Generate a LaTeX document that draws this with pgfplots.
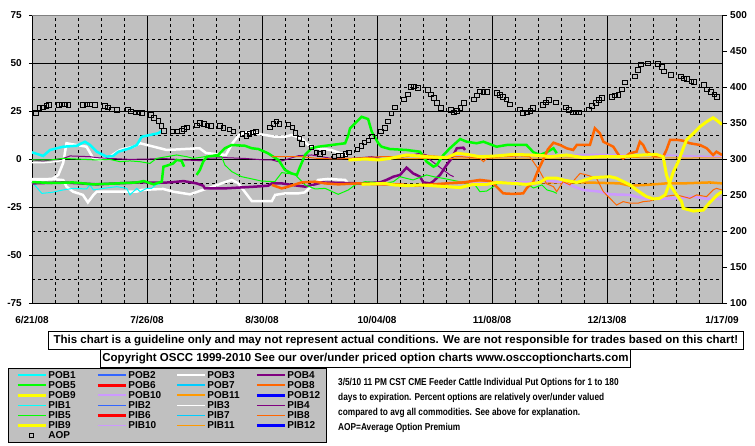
\documentclass[border=0pt]{standalone}
\usepackage{fontspec}
\setmainfont{Liberation Sans}
\usepackage{pgfplots}
\pgfplotsset{compat=1.18}
\definecolor{chartgray}{HTML}{C0C0C0}
\definecolor{cCyan}{HTML}{00FFFF}
\definecolor{cBlue2}{HTML}{3366FF}
\definecolor{cPurple}{HTML}{800080}
\definecolor{cGreen}{HTML}{00FF00}
\definecolor{cRed}{HTML}{FF0000}
\definecolor{cSky}{HTML}{00CCFF}
\definecolor{cOrRed}{HTML}{FF6600}
\definecolor{cYellow}{HTML}{FFFF00}
\definecolor{cLav}{HTML}{CC99FF}
\definecolor{cOrange}{HTML}{FF9900}
\definecolor{cBlue}{HTML}{0000FF}
\newcommand{\lf}{\bfseries\fontsize{10bp}{12bp}\selectfont}
\newcommand{\nl}[1]{\scalebox{0.83}[1]{#1}}
\pgfplotsset{aopleg/.style={legend image code/.code={\path[draw=none] (0bp,0bp) -- (28bp,0bp); \node[draw=black, fill=none, line width=0.8bp, minimum width=4.5bp, minimum height=4.5bp, text height=0pt, text depth=0pt, inner sep=0pt] at (11bp,0bp) {};}}}
\begin{document}
\begin{tikzpicture}
\path (-32bp,-143bp) rectangle (723bp,303bp);
\begin{axis}[
  at={(0bp,0bp)}, anchor=south west,
  scale only axis, width=690bp, height=288bp,
  xmin=0, xmax=210, ymin=-75, ymax=75,
  axis background/.style={fill=chartgray},
  axis line style={black, line width=0.8bp},
  xtick={0,35,70,105,140,175,210},
  xticklabels={6/21/08,7/26/08,8/30/08,10/04/08,11/08/08,12/13/08,1/17/09},
  minor x tick num=4,
  ytick={-75,-50,-25,0,25,50,75},
  yticklabels={-75,-50,-25,0,25,50,75},
  minor y tick num=1,
  grid=both,
  major grid style={black, line width=0.8bp},
  minor grid style={black, line width=0.8bp, dash pattern=on 3bp off 3bp},
  tick align=outside, major tick length=3bp, minor tick length=0pt,
  ytick pos=left, xtick pos=bottom,
  x tick style={draw=none},
  y tick style={black, line width=0.8bp},
  xticklabel style={font=\lf, anchor=north, inner sep=0pt, yshift=-10bp},
  yticklabel style={font=\lf, anchor=east, inner sep=0pt, xshift=-7bp},
  legend columns=4,
  legend cell align=left,
  legend style={at={(-0.03478,-0.2257)}, anchor=north west, draw=black, line width=0.8bp, fill=chartgray,
    inner xsep=8bp, inner ysep=2bp, font=\lf, row sep=0bp,
    nodes={inner sep=0pt, text height=8.5bp, text depth=1.5bp},
    /tikz/every odd column/.style={column sep=1bp},
    /tikz/every even column/.style={column sep=2bp}},
  legend image code/.code={\draw[#1] (0bp,0bp) -- (28bp,0bp);},
  after end axis/.code={\draw[gray, line width=0.8bp] (rel axis cs:0,1) -- (rel axis cs:1,1);},
]
% ---- legend entries (row-wise, 4 columns) ----
\addlegendimage{cCyan, line width=2bp}\addlegendentry{\makebox[46bp][l]{POB1}}
\addlegendimage{cBlue2, line width=2bp}\addlegendentry{\makebox[46bp][l]{POB2}}
\addlegendimage{white, line width=2bp}\addlegendentry{\makebox[46bp][l]{POB3}}
\addlegendimage{cPurple, line width=2bp}\addlegendentry{\makebox[31bp][l]{POB4}}
\addlegendimage{cGreen, line width=2bp}\addlegendentry{\makebox[46bp][l]{POB5}}
\addlegendimage{cRed, line width=3bp}\addlegendentry{\makebox[46bp][l]{POB6}}
\addlegendimage{cSky, line width=2bp}\addlegendentry{\makebox[46bp][l]{POB7}}
\addlegendimage{cOrRed, line width=2bp}\addlegendentry{\makebox[31bp][l]{POB8}}
\addlegendimage{cYellow, line width=3bp}\addlegendentry{\makebox[46bp][l]{POB9}}
\addlegendimage{cLav, line width=2bp}\addlegendentry{\makebox[46bp][l]{POB10}}
\addlegendimage{cOrange, line width=2bp}\addlegendentry{\makebox[46bp][l]{POB11}}
\addlegendimage{cBlue, line width=3bp}\addlegendentry{\makebox[31bp][l]{POB12}}
\addlegendimage{cCyan, line width=1.8bp}\addlegendentry{\makebox[46bp][l]{PIB1}}
\addlegendimage{cBlue2, line width=1.8bp}\addlegendentry{\makebox[46bp][l]{PIB2}}
\addlegendimage{white, line width=1.8bp}\addlegendentry{\makebox[46bp][l]{PIB3}}
\addlegendimage{cPurple, line width=1.8bp}\addlegendentry{\makebox[31bp][l]{PIB4}}
\addlegendimage{cGreen, line width=1.8bp}\addlegendentry{\makebox[46bp][l]{PIB5}}
\addlegendimage{cRed, line width=2.2bp}\addlegendentry{\makebox[46bp][l]{PIB6}}
\addlegendimage{cSky, line width=1.8bp}\addlegendentry{\makebox[46bp][l]{PIB7}}
\addlegendimage{cOrRed, line width=1.8bp}\addlegendentry{\makebox[31bp][l]{PIB8}}
\addlegendimage{cYellow, line width=2.2bp}\addlegendentry{\makebox[46bp][l]{PIB9}}
\addlegendimage{cLav, line width=1.8bp}\addlegendentry{\makebox[46bp][l]{PIB10}}
\addlegendimage{cOrange, line width=1.8bp}\addlegendentry{\makebox[46bp][l]{PIB11}}
\addlegendimage{cBlue, line width=2.2bp}\addlegendentry{\makebox[31bp][l]{PIB12}}
\addlegendimage{aopleg}\addlegendentry{\makebox[46bp][l]{AOP}}
% ---- data ----
% PIB3 (white thin)
\addplot[forget plot, white, line width=1.3bp] coordinates {(0,-2)(3,-2)(6,-1.6)(8,-1.2)(9.5,-0.5)};
% white lower
\addplot[forget plot, white, line width=2.5bp] coordinates {(0,-10.5)(6,-10.4)(9.5,-11)(10.5,-14.4)(12.5,-17)(15.5,-18.7)(17,-22.6)(18.7,-18.7)(19.7,-17)(31.9,-17)(33.4,-16.1)(39.9,-15.6)(42.9,-17)(48.1,-18.4)(52,-16.1)(54.2,-14.9)(58,-12.5)(60.8,-10.9)(62.8,-12.7)(66.9,-21.9)(73,-21.9)(74,-18.7)(77,-17.9)(81,-17.9)(83,-17.4)(87.1,-10.9)(90,-10.4)(95.3,-10.9)(96,-12.2)};
% white upper
\addplot[forget plot, white, line width=2.5bp] coordinates {(0,-11)(6,-10.6)(8,-8.3)(9.5,-2)(10.5,8.2)(16.6,6.4)(18.6,0.5)(20.7,-0.5)(23.7,1.2)(26.8,4.7)(30.8,6.4)(32.9,8.2)(41,4.7)(51,5.6)(53,3.1)(59,2.1)(61,8.2)(63,12.5)(65.7,14.2)(69.9,12.8)(74,11.6)(77,11.6)(79,12.5)(82,10.8)(84,7.3)(87,5.6)(91,4.7)(95,2.4)(96,1.8)};
% POB1 cyan
\addplot[forget plot, cCyan, line width=2.5bp] coordinates {(0,3.5)(3.4,1.6)(5.5,4.7)(9.5,6.4)(13.6,6.9)(16.1,9)(17.7,7.3)(19.7,3.8)(22.7,1.2)(24.7,1.6)(26.3,3.8)(29.8,5.6)(31.9,7.3)(33.4,11.6)(35.9,12.5)(38.4,13.4)(39.5,14.6)};
% PIB1 cyan thin
\addplot[forget plot, cCyan, line width=1bp] coordinates {(0,-12)(3,-17.9)(6,-17.4)(9.5,-16.1)(12.6,-15.3)(16.6,-15.6)(17.6,-13.5)(18.7,-16.1)(21.7,-15.3)(25.8,-14.4)(28.8,-15.3)(29.8,-18.7)(31.9,-15.3)(32.9,-17)(34.9,-15.3)(36.4,-15.3)(37.9,-13.2)(39,-13)};
% PIB4 purple thin
\addplot[forget plot, cPurple, line width=1bp] coordinates {(0,-0.5)(3.4,-1)(9.5,0.3)(11.6,1.6)(17.7,1.2)(19.7,0.7)(23.7,0.3)(29.8,-0.2)(35.9,0)(39.9,0.3)(46.1,-0.5)(52.1,-0.9)(52.6,0.3)(58.7,0.7)(64.8,0.3)(70.9,-0.5)(73,-0.5)(75,-1.4)(77,-0.5)(81,1.7)(85.1,2.1)(91.2,0.3)(97.3,0.3)(103.4,1.2)(107.4,0)(111.9,0.7)(118.1,3)(120.1,2.1)(121.2,-0.5)(123.2,-3.1)(125.2,-5.7)(127.2,-8.3)(128.3,-9.2)};
% POB4 purple thick
\addplot[forget plot, cPurple, line width=2.5bp] coordinates {(0,-12.7)(9.5,-12.2)(19.7,-13.2)(25.8,-12.7)(32.9,-12.2)(39.9,-12.3)(41.9,-12.2)(46.1,-11.5)(50.1,-12.7)(52.1,-13.9)(52.6,-15.3)(58.7,-15.3)(62.8,-14.9)(67.9,-14.4)(71.9,-13.9)(73,-12.7)(76,-12.7)(79,-13.5)(83.1,-14.4)(86.1,-13.2)(88.2,-12.2)(95,-12.5)(100,-12.7)(105.9,-12.2)(107.9,-10.9)(110,-9.2)(112,-8.3)(114,-4.5)(116,-7.5)(118.1,-9.2)(119.1,-12.2)(121.2,-12.7)(122.2,-11.5)(124.2,-8.3)(126.2,-3.1)(127.7,0.3)(129.3,5.6)(131.3,5.9)(131.8,4.7)};
% PIB5 green thin
\addplot[forget plot, cGreen, line width=1bp] coordinates {(0,-0.5)(5.5,-0.5)(9.5,0.3)(19.7,-0.5)(23.7,-0.2)(26.8,-1.4)(29.8,-1)(32.9,-1.4)(35.9,-2.3)(37.9,0.3)(41,1.2)(44,2.1)(47.1,1.2)(49.1,0.3)(52.6,1.2)(57.7,1.2)(58.7,-3.1)(60.8,-6.6)(63.8,-9.2)(69.9,-11.5)(73.9,-11.8)(76,-7.1)(80,-8)(82,-11.5)(83.1,-13.5)(86.2,-15.6)(89.2,-15.3)(93.2,-18.4)(96.3,-16.1)(98.3,-13.5)(101.4,-11.8)(104.4,-12.2)(107.4,-12.7)(110,-11.8)(112,-9.2)(114,-10.1)(116,-10.9)(120.1,-8.3)(122.2,-9.2)(125.2,-10.1)(129.3,-11.5)(132.3,-12.7)(134.3,-12.2)(136.3,-17)(138.4,-16.7)(140.4,-14.4)(142.4,-11.8)(144.5,-12.2)(148.5,-13.5)(150.5,-12.7)(152.6,-15.1)(155.2,-13.5)(156.7,-16.1)(158.6,-17)(159.7,-17.9)};
% POB5 green thick
\addplot[forget plot, cGreen, line width=2.5bp] coordinates {(0,-12)(6,-12.5)(12.5,-12.2)(18.7,-13.2)(24.7,-12.8)(31.9,-12.2)(34,-11.5)(37,-13.2)(39.5,-11.8)(40,-4)(41,-3.5)(43,-2.3)(44,-0.5)(45.5,-0.9)(46.3,-4)};
\addplot[forget plot, cGreen, line width=2.5bp] coordinates {(50.1,-8.3)(51.1,-5.7)(52.1,-1.4)(53.2,1.2)(56.7,2.1)(58.7,5.6)(60.8,7.3)(64.8,6.9)(66.9,5.6)(68.9,5.2)(71.8,3)(75,-0.5)(77,-5.7)(79,-7.5)(80.6,-8.3)(81.6,-4)(83.1,2.1)(85.1,5.6)(87.1,6.4)(91.2,7.3)(95.3,8.2)(96.3,12.5)(96.8,16)(100.3,22)(102.3,20.8)(103.4,14.2)(105.4,8.2)(106.4,6.4)(108.9,5.2)(114,4.7)(118.1,3.8)(120.1,-1.4)(122.2,-4)(123.2,-3.1)(125.2,2.1)(127.2,5.6)(130.3,10.4)(132.3,9)(135.3,8.2)(137.4,9)(141.4,6.4)(144.5,7.3)(150.5,7.3)(152.6,3.5)(154.6,2.1)(156.6,3.5)(158.7,5.6)(159.7,3)};
% PIB11 orange thin
\addplot[forget plot, cOrange, line width=1bp] coordinates {(100,0)(120,0.3)(140,0.5)(160,0.5)(180,0.7)(200,0.5)(210,0.7)};
% PIB10 lavender thin
\addplot[forget plot, cLav, line width=1.5bp] coordinates {(128,1.5)(136,1.6)(145,1.6)(155,2)(172.8,2.4)(185,2)(192,2.1)(200,1.6)(210,1.2)};
% POB11 orange thick
\addplot[forget plot, cOrange, line width=2.5bp] coordinates {(128,-12.5)(131.3,-12.2)(140,-12.2)(150,-12.2)(157.6,-12.2)(167.8,-12.2)(178.9,-12.7)(182,-13.9)(187,-13.5)(193,-12.7)(198.2,-12.7)(206.3,-12.2)(210,-12.7)};
% POB10 lavender thick
\addplot[forget plot, cLav, line width=2.5bp] coordinates {(133,-12.7)(138,-12.5)(145,-12.2)(152,-12.2)(157.6,-11.5)(161.6,-12.2)(165.8,-14.9)(167.8,-16.1)(172.8,-17)(175.9,-18.4)(182,-18.7)(186,-20.5)(190,-20.8)(196.2,-20.5)(201.3,-19.6)(204.3,-20.5)(207.3,-20.8)(210,-20.8)};
% PIB8 orange-red thin
\addplot[forget plot, cOrRed, line width=1bp] coordinates {(73,1.2)(82,1.2)(87,0.3)(93,0)(96.3,0.3)(101.4,0.7)(105.9,1.2)(114,1.2)(119,2.1)(125,1.2)(131,1.2)(136.3,0.3)(137.4,-1.4)(138.4,0.3)(143.4,1.2)(148.5,1.6)(151.5,1.2)(153.6,-4)(154.6,-6.6)(156.6,-12.9)(158.7,-14.4)(159.7,-17)(161.6,-11.8)(163.7,-13.5)(166.8,-7.5)(168.8,-8.3)(171.8,-10)(173.9,-17)(175.9,-20.5)(177.9,-24)(179.9,-22.2)(182,-23)(184.5,-23)(186,-22.2)(188,-21.9)(190,-20.8)(192,-19.6)(196.2,-18.7)(198.2,-19.6)(200.2,-20.5)(202.3,-18.7)(205.3,-19.6)(207.3,-16.1)(208.3,-15.3)(210,-16.1)};
% POB8 orange-red thick
\addplot[forget plot, cOrRed, line width=2.5bp] coordinates {(73,-13.5)(76,-15.3)(78,-14.4)(82,-12.2)(86.2,-11.8)(89.2,-12.7)(93.2,-13.2)(99.3,-12.7)(105.4,-13.2)(111.9,-13.2)(116,-13.9)(126.2,-12.7)(131.3,-12.2)(136.3,-10.9)(139.4,-11.5)(141.4,-14.4)(143.4,-17.9)(146.5,-18.2)(149.5,-17.9)(150.5,-15.3)(152.6,-11.8)(154,-6)(155.4,-1)(157,5)(158.7,8.5)(160.7,7.3)(162.7,5.6)(164.7,4.7)(165.8,7.3)(169.8,7.3)(171.3,16)(172.8,13.5)(173.9,9)(176.9,6.4)(178.9,1.2)(179.9,0.3)(182,3)(184,3.8)(185,9)(186,7.3)(187,3.8)(189,1.7)(192.1,1.2)(193.1,4.7)(194.2,10)(196.2,10)(198.2,9.5)(200.2,8.2)(203.3,7.3)(205.3,5.6)(207.3,2.1)(208.3,3.8)(210,2.1)};
% yellow A
\addplot[forget plot, cYellow, line width=3bp] coordinates {(96.3,-0.5)(101.4,0)(105.4,-0.5)(108.9,0.3)(114,2.1)(120.1,1.2)(126.2,0.7)(129.3,3)(132.3,2.4)(136.3,1.2)(141.4,1.6)(146.5,2.4)(151.5,2.1)(155.6,1.7)(157.6,1.2)(162.7,2.1)(167.8,0.7)(172.8,1.2)(178.9,1.2)(186,2.1)(190,2.4)(192.1,1.2)(193.1,-8.3)(194.2,-13.5)(196.2,-18.7)(197.7,-22.2)(198.2,-25.7)(201.3,-27.1)(204.3,-26.6)(206.3,-22.6)(208.6,-18.7)(210,-17)};
% yellow B
\addplot[forget plot, cYellow, line width=3bp] coordinates {(100.3,-13.2)(107.4,-12.7)(110,-13.5)(114,-13.9)(118.1,-13.5)(126.2,-14.4)(130.3,-14.9)(134.3,-13.2)(138.4,-13.2)(141.4,-12.2)(146.5,-12.7)(150.5,-13.2)(154.6,-12.2)(156.6,-10)(159.7,-10)(161.6,-10.9)(165.8,-12.2)(170.8,-9.7)(175.9,-9.2)(177.9,-10)(182,-13.5)(184,-16.1)(187,-19.6)(189.1,-20.8)(191,-20.5)(192.7,-18.7)(194.2,-11.8)(195.2,-6.6)(196.7,-1.4)(198.2,5.6)(199.2,9.9)(201.3,13.4)(203.3,16.8)(205.3,19.4)(207.3,21.5)(208.3,20.3)(210,18)};
\end{axis}
\begin{axis}[
  at={(0bp,0bp)}, anchor=south west,
  scale only axis, width=690bp, height=288bp,
  xmin=0, xmax=210, ymin=100, ymax=500,
  axis x line=none, axis y line*=right,
  axis line style={black, line width=0.8bp, -},
  ytick={100,150,200,250,300,350,400,450,500},
  yticklabels={100,150,200,250,300,350,400,450,500},
  tick align=outside, major tick length=5bp,
  y tick style={black, line width=0.8bp},
  yticklabel style={font=\lf, anchor=west, inner sep=0pt, xshift=3bp},
]
\addplot[only marks, mark=square, mark size=2.2bp, mark options={black, line width=0.8bp}] coordinates {
(1.2,364)(2.2,371)(3.3,372)(4.3,374)(5.2,375)
(8.2,375)(9.1,376)(10.0,376)(11.0,375)
(15.5,375)(16.7,376)(17.6,376)(19.2,375)
(22.2,374)(23.1,372)(24.3,369)(25.8,368)
(29.2,369)(30.1,366)(31.4,365)(32.3,365)(33.5,364)
(36.2,361)(37.1,357)(38.4,353)(39.3,346)(40.2,339)
(42.9,338)(44.1,338)(45.6,339)(46.2,342)(47.2,344)
(50.2,347)(51.1,350)(52.3,349)(53.3,347)(54.5,346)
(57.2,346)(58.2,343)(60.1,341)(61.3,338)
(64.1,335)(65.3,332)(66.1,335)(67.2,337)(68.2,338)
(72.4,344)(73.4,349)(74.3,352)(75.3,349)
(78,348)(79.2,344)(80.2,336)(81.3,329)(82.1,321)
(85.1,316)(86.6,309)(87.6,307)(88.6,309)
(92,304)(93.2,305)(94.4,305)(95.4,307)(96.4,309)
(99.1,313)(100.3,318)(101.1,323)(102.3,326)(103.4,331)
(106.2,338)(107.4,343)(108.3,352)(109.3,363)(110.5,372)
(113.2,383)(114.4,390)(115.3,400)(116.2,401)(117.4,399)
(120.5,396)(121.4,390)(122.3,385)(123.2,378)(124.5,371)
(127.5,368)(128.4,365)(129.3,367)(130.3,371)(131.5,378)
(134.5,383)(135.4,388)(136.3,394)(137.3,393)(138.5,393)
(141.5,392)(142.4,389)(143.3,386)(144.3,383)(145.5,376)
(148.5,369)(149.4,364)(150.6,365)(151.6,367)(152.5,371)
(155.5,375)(156.4,379)(157.3,382)(159.5,379)
(162.5,372)(163.4,368)(164.6,365)(165.5,365)(166.5,365)
(169.5,369)(170.4,374)(171.6,378)(172.5,382)(173.5,385)
(176.5,386)(177.4,388)(178.4,389)(179.5,397)(180.5,406)
(183.5,415)(184.4,424)(185.3,431)(187.5,433)
(190.5,432)(191.7,428)(192.3,422)(194.5,417)
(197.5,415)(198.4,412)(199.3,411)(200.6,408)(201.5,407)
(204.5,403)(205.4,397)(206.6,393)(207.6,390)(208.5,386)};
\end{axis}
\node[draw=black, line width=0.8bp, fill=white, anchor=north west, minimum width=695bp, minimum height=18bp, inner xsep=2bp, inner ysep=0pt, font=\bfseries\fontsize{11.5bp}{13bp}\selectfont] at (16bp,-28bp) {This chart is a guideline only and may not represent actual conditions. We are not responsible for trades based on this chart!};
\node[draw=black, line width=0.8bp, fill=white, anchor=north west, minimum width=530bp, minimum height=18bp, inner xsep=2bp, inner ysep=0pt, font=\bfseries\fontsize{11.5bp}{13bp}\selectfont] at (68bp,-46bp) {Copyright OSCC 1999-2010 See our over/under priced option charts www.osccoptioncharts.com};
\node[anchor=north west, align=left, inner sep=0pt, font=\bfseries\fontsize{10bp}{15bp}\selectfont] at (306bp,-75bp) {\nl{3/5/10 11 PM CST CME Feeder Cattle Individual Put Options for 1 to 180}\\\nl{days to expiration. Percent options are relatively over/under valued}\\\nl{compared to avg all commodities. See above for explanation.}\\\nl{AOP=Average Option Premium}};
\end{tikzpicture}
\end{document}
